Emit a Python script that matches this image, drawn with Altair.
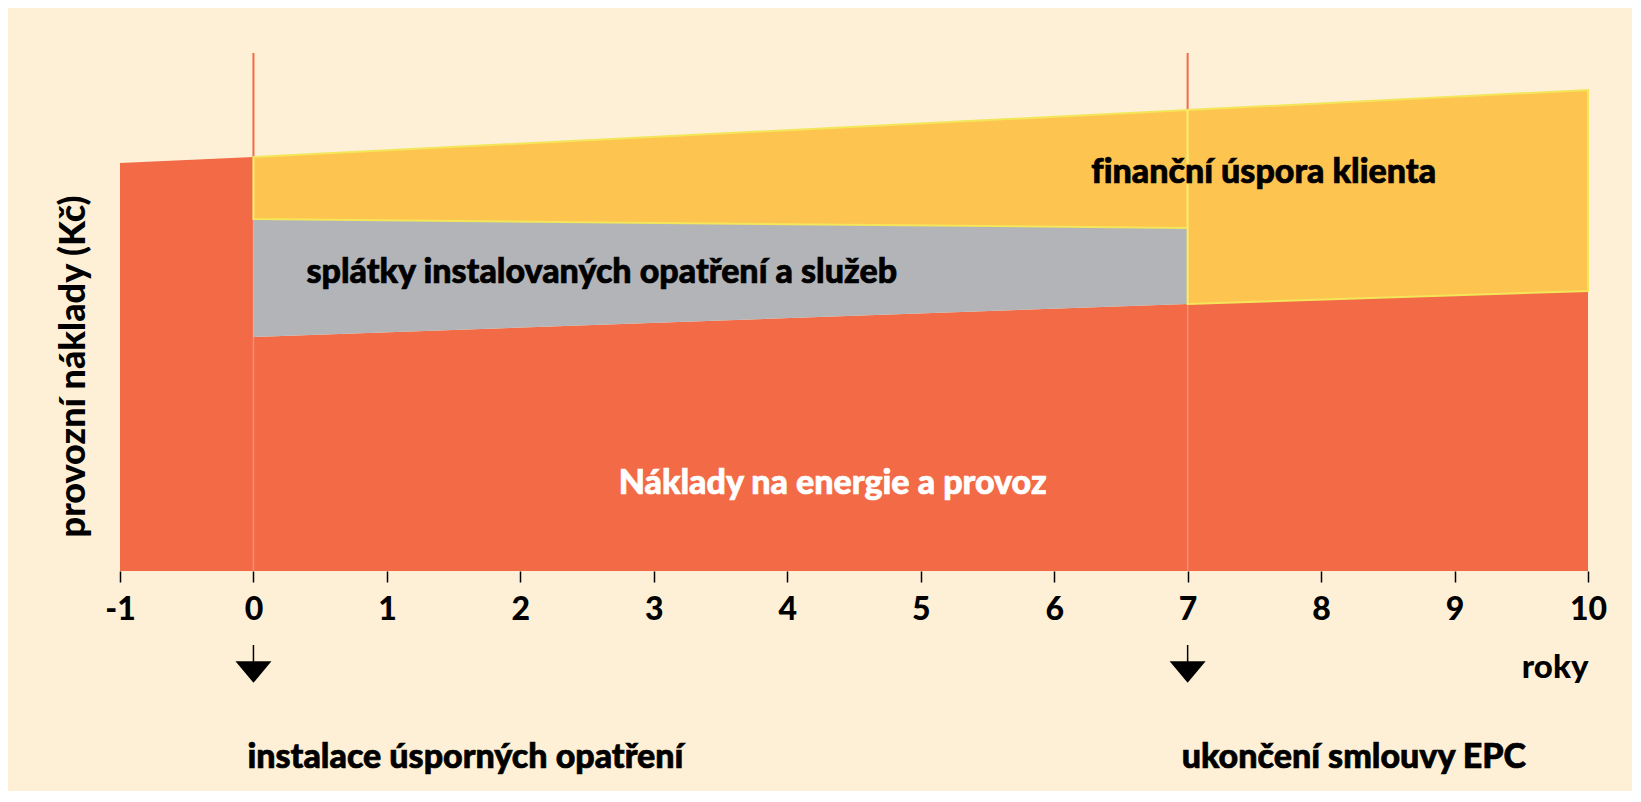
import altair as alt
import pandas as pd

# ---- data (arbitrary cost units) ----
years_pre = [-1, 0]
energy_pre = [408, 414]          # operating costs before the measures

years_post = [0, 7, 10]
energy_post = [234, 267, 280]    # energy & operation costs after the measures

years_contract = [0, 7]
repay_top = [352, 343]           # top of repayments band (on top of energy)

saving_years_a = [0, 7]
saving_top_a = [414, 461]        # client saving during contract (top)
saving_years_b = [7, 10]
saving_top_b = [461, 481]        # client saving after contract (top)

event_years = [0, 7]
event_labels = ["instalace úsporných opatření", "ukončení smlouvy EPC"]
x_ticks = list(range(-1, 11))
y_max = 520

RED = "#f26a46"
YEL = "#fec450"
GRAY = "#b3b4b8"
BG = "#fef0d6"
FONT = "Lato"
W = 1468

red_df = pd.DataFrame(
    {"year": years_pre + years_post,
     "top": energy_pre + energy_post,
     "seg": ["pre"] * len(years_pre) + ["post"] * len(years_post)}
)
gray_df = pd.DataFrame(
    {"year": years_contract,
     "bottom": energy_post[:2],
     "top": repay_top}
)
yel_df = pd.DataFrame(
    {"year": saving_years_a + saving_years_b,
     "bottom": repay_top + energy_post[1:],
     "top": saving_top_a + saving_top_b,
     "seg": ["a"] * 2 + ["b"] * 2}
)
ev_df = pd.DataFrame(
    {"year": event_years, "label": event_labels,
     "base": [0, 0],
     "ruletop": [y_max - 2, y_max - 2],
     "top": [saving_top_a[0], saving_top_a[1]]}
)

xs = alt.Scale(domain=[-1, 10], nice=False, zero=False)
ys = alt.Scale(domain=[0, y_max], nice=False)

X = alt.X("year:Q", scale=xs,
          axis=alt.Axis(values=x_ticks, title="roky",
                        labelExpr="datum.value < 0 ? '-' + abs(datum.value) : '' + datum.value",
                        titleX=W, titleY=106, titleAlign="right",
                        titleBaseline="alphabetic", titleFontSize=33,
                        titleFont=FONT, titleFontWeight=900, titleColor="black"))
Y_AX = alt.Axis(title="provozní náklady (Kč)", labels=False, ticks=False,
                domain=False, grid=False, titleAngle=270, titleX=-47, titleY=315,
                titleAlign="center", titleBaseline="middle", titleFontSize=36,
                titleFont=FONT, titleFontWeight=900, titleColor="black")

rules = alt.Chart(ev_df).mark_rule(color=RED, strokeWidth=2).encode(
    x=X, y=alt.Y("base:Q", scale=ys, axis=Y_AX), y2="ruletop:Q")

red = alt.Chart(red_df).mark_area(color=RED, opacity=1).encode(
    x=X, y=alt.Y("top:Q", scale=ys, axis=Y_AX, stack=None), detail="seg:N")

gray = alt.Chart(gray_df).mark_area(color=GRAY, opacity=1).encode(
    x=X, y=alt.Y("bottom:Q", scale=ys, axis=Y_AX, stack=None), y2="top:Q")

yel = alt.Chart(yel_df).mark_area(color=YEL, opacity=1, stroke="#f4e65a",
                                   strokeWidth=2).encode(
    x=X, y=alt.Y("bottom:Q", scale=ys, axis=Y_AX, stack=None), y2="top:Q",
    detail="seg:N")

pale = alt.Chart(ev_df).mark_rule(color="white", strokeWidth=1.5, opacity=0.25).encode(
    x=X, y=alt.Y("base:Q", scale=ys, axis=Y_AX), y2="top:Q")

def label(text, year, val, color="black", size=34, align="center"):
    d = pd.DataFrame({"year": [year], "v": [val], "t": [text]})
    return alt.Chart(d).mark_text(font=FONT, fontWeight=900, fontSize=size,
                                  color=color, align=align, stroke=color,
                                  strokeWidth=0.7,
                                  baseline="alphabetic").encode(
        x=X, y=alt.Y("v:Q", scale=ys, axis=Y_AX), text="t:N")

t1 = label("f\u200cinanční úspora klienta", 7.57, 388)
t2 = label("splátky instalovaných opatření a služeb", 2.61, 288)
t3 = label("Náklady na energie a provoz", 4.34, 77, color="white")

stem = alt.Chart(ev_df).mark_rule(color="black", strokeWidth=1.5).encode(
    x=X, y=alt.value(594), y2=alt.value(612))
head = alt.Chart(ev_df).mark_point(
    shape="M-1,-0.6L1,-0.6L0,0.6Z", filled=True, color="black", opacity=1,
    size=1296).encode(x=X, y=alt.value(621))
evt = alt.Chart(ev_df).mark_text(font=FONT, fontWeight=900, fontSize=34,
                                 color="black", stroke="black", strokeWidth=0.7,
                                 align="left",
                                 baseline="alphabetic", dx=-6).encode(
    x=X, y=alt.value(717), text="label:N")

chart = alt.layer(rules, red, gray, yel, pale, t1, t2, t3, stem, head, evt).properties(
    width=W, height=520,
    background=BG,
    padding={"left": 112, "top": 43, "right": 44, "bottom": 220},
    autosize=alt.AutoSizeParams(type="none"),
).configure_view(stroke=None).configure_axisX(
    grid=False, domain=False, tickColor="black", tickSize=11, tickWidth=1.5,
    labelFont=FONT, labelFontSize=32, labelFontWeight=900, labelColor="black",
    labelPadding=12, labelFlush=False, labelOverlap=False,
)

chart.save("out.html", embed_options={"renderer": "svg", "actions": False})
